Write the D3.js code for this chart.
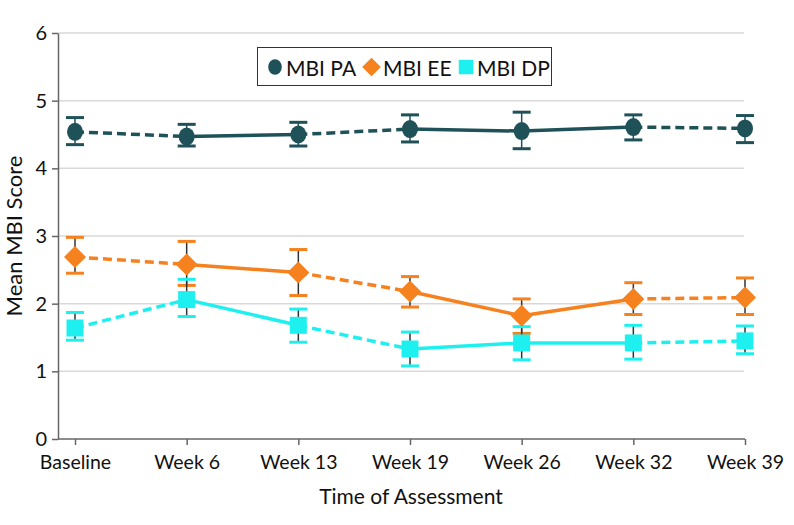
<!DOCTYPE html>
<html>
<head>
<meta charset="utf-8">
<script src="https://cdn.jsdelivr.net/npm/d3@7"></script>
<style>
  body { margin: 0; background: #fff; }
  svg text { font-family: "Lato", "DejaVu Sans Condensed", sans-serif; fill: #111; }
</style>
</head>
<body>
<div id="chart"></div>
<script>
// categories (time points)
var weeks = ["Baseline", "Week 6", "Week 13", "Week 19", "Week 26", "Week 32", "Week 39"];

// series means and error bar bounds
var paMean = [4.54, 4.47, 4.50, 4.58, 4.55, 4.61, 4.59];
var paLow  = [4.35, 4.33, 4.33, 4.39, 4.29, 4.42, 4.38];
var paHigh = [4.75, 4.65, 4.68, 4.79, 4.83, 4.79, 4.78];

var eeMean = [2.69, 2.58, 2.46, 2.18, 1.82, 2.07, 2.09];
var eeLow  = [2.45, 2.27, 2.12, 1.95, 1.56, 1.84, 1.84];
var eeHigh = [2.98, 2.92, 2.80, 2.40, 2.07, 2.31, 2.38];

var dpMean = [1.64, 2.06, 1.68, 1.33, 1.42, 1.42, 1.45];
var dpLow  = [1.46, 1.81, 1.43, 1.08, 1.17, 1.18, 1.26];
var dpHigh = [1.87, 2.36, 1.92, 1.58, 1.66, 1.68, 1.67];

// which segment between consecutive points is dashed
var segDashed = [true, false, true, false, false, true];

var yTicks = [0, 1, 2, 3, 4, 5, 6];

var width = 794, height = 525;
var axisLeftX = 58;

var svg = d3.select("#chart").append("svg")
    .attr("width", width)
    .attr("height", height);

var x = d3.scalePoint()
    .domain(weeks)
    .range([75, 745]);

var y = d3.scaleLinear()
    .domain([0, 6])
    .range([439, 33]);

// gridlines
svg.append("g")
    .selectAll("line")
    .data(yTicks.filter(d => d > 0))
    .enter()
    .append("line")
    .attr("x1", axisLeftX)
    .attr("x2", 744)
    .attr("y1", d => y(d))
    .attr("y2", d => y(d))
    .style("stroke", "#d9d9d9")
    .style("stroke-width", 1.5);

// y axis
var leftAxis = d3.axisLeft(y).tickValues(yTicks).tickFormat(d3.format("d"))
    .tickSize(6).tickSizeOuter(0).tickPadding(5);
var yAxisG = svg.append("g")
    .attr("transform", "translate(" + axisLeftX + ",0)")
    .call(leftAxis);
yAxisG.selectAll("text").style("font-size", "20px");
yAxisG.selectAll("line").style("stroke", "#666").style("stroke-width", 1.5);
yAxisG.select(".domain").style("stroke", "#666").style("stroke-width", 1.5);

// x axis
var bottomAxis = d3.axisBottom(x).tickSize(6).tickSizeOuter(0).tickPadding(10);
var xAxisG = svg.append("g")
    .attr("transform", "translate(0," + y(0) + ")")
    .call(bottomAxis);
xAxisG.select(".domain").remove();
xAxisG.append("line")
    .attr("x1", axisLeftX)
    .attr("x2", x(weeks[weeks.length - 1]))
    .style("stroke", "#666")
    .style("stroke-width", 1.5);
xAxisG.selectAll("text").style("font-size", "19.5px");
xAxisG.selectAll(".tick line").style("stroke", "#666").style("stroke-width", 1.5);

// axis titles
svg.append("text")
    .attr("x", 411)
    .attr("y", 504)
    .attr("text-anchor", "middle")
    .style("font-size", "21px")
    .text("Time of Assessment");

svg.append("text")
    .attr("transform", "translate(22," + 236 + ")rotate(-90)")
    .attr("text-anchor", "middle")
    .style("font-size", "22px")
    .text("Mean MBI Score");

var series = [
  { name: "MBI PA", color: "#1f5159", mean: paMean, low: paLow, high: paHigh, shape: "circle", stem: "#1f5159" },
  { name: "MBI EE", color: "#f5821f", mean: eeMean, low: eeLow, high: eeHigh, shape: "diamond", stem: "#333" },
  { name: "MBI DP", color: "#1ef0f0", mean: dpMean, low: dpLow, high: dpHigh, shape: "square", stem: "#333" }
];

// connecting segments
series.forEach(function(s) {
  var g = svg.append("g");
  for (var i = 0; i < weeks.length - 1; i++) {
    g.append("line")
      .attr("x1", x(weeks[i]))
      .attr("y1", y(s.mean[i]))
      .attr("x2", x(weeks[i + 1]))
      .attr("y2", y(s.mean[i + 1]))
      .style("stroke", s.color)
      .style("stroke-width", 3.5)
      .style("stroke-dasharray", segDashed[i] ? "9,5" : null);
  }
});

// error bars
series.forEach(function(s) {
  var g = svg.append("g");
  weeks.forEach(function(w, i) {
    g.append("line")
      .attr("x1", x(w)).attr("x2", x(w))
      .attr("y1", y(s.low[i])).attr("y2", y(s.high[i]))
      .style("stroke", s.stem)
      .style("stroke-width", 1.5);
    [s.low[i], s.high[i]].forEach(function(v) {
      g.append("line")
        .attr("x1", x(w) - 9).attr("x2", x(w) + 9)
        .attr("y1", y(v)).attr("y2", y(v))
        .style("stroke", s.color)
        .style("stroke-width", 3);
    });
  });
});

function drawMarker(g, shape, cx, cy, color, scale) {
  if (shape === "circle") {
    g.append("ellipse").attr("cx", cx).attr("cy", cy)
      .attr("rx", 8 * scale).attr("ry", 9 * scale).style("fill", color);
  } else if (shape === "diamond") {
    var r = 11 * scale;
    g.append("path")
      .attr("d", "M" + cx + "," + (cy - r) + "L" + (cx + r) + "," + cy + "L" + cx + "," + (cy + r) + "L" + (cx - r) + "," + cy + "Z")
      .style("fill", color);
  } else {
    var h = 8.5 * scale;
    g.append("rect").attr("x", cx - h).attr("y", cy - h)
      .attr("width", 2 * h).attr("height", 2 * h).style("fill", color);
  }
}

// markers
series.forEach(function(s) {
  var g = svg.append("g");
  weeks.forEach(function(w, i) {
    drawMarker(g, s.shape, x(w), y(s.mean[i]), s.color, 1);
  });
});

// legend
var legend = svg.append("g");
legend.append("rect")
    .attr("x", 257.5).attr("y", 47.5)
    .attr("width", 294).attr("height", 38)
    .style("fill", "#fff")
    .style("stroke", "#333")
    .style("stroke-width", 1);

var legendMarkX = [275, 371.5, 466];
var legendTextX = [286, 383, 477];
series.forEach(function(s, i) {
  drawMarker(legend, s.shape, legendMarkX[i], 67, s.color, 0.85);
  legend.append("text")
    .attr("x", legendTextX[i])
    .attr("y", 76)
    .style("font-size", "21px")
    .text(s.name);
});
</script>
</body>
</html>
